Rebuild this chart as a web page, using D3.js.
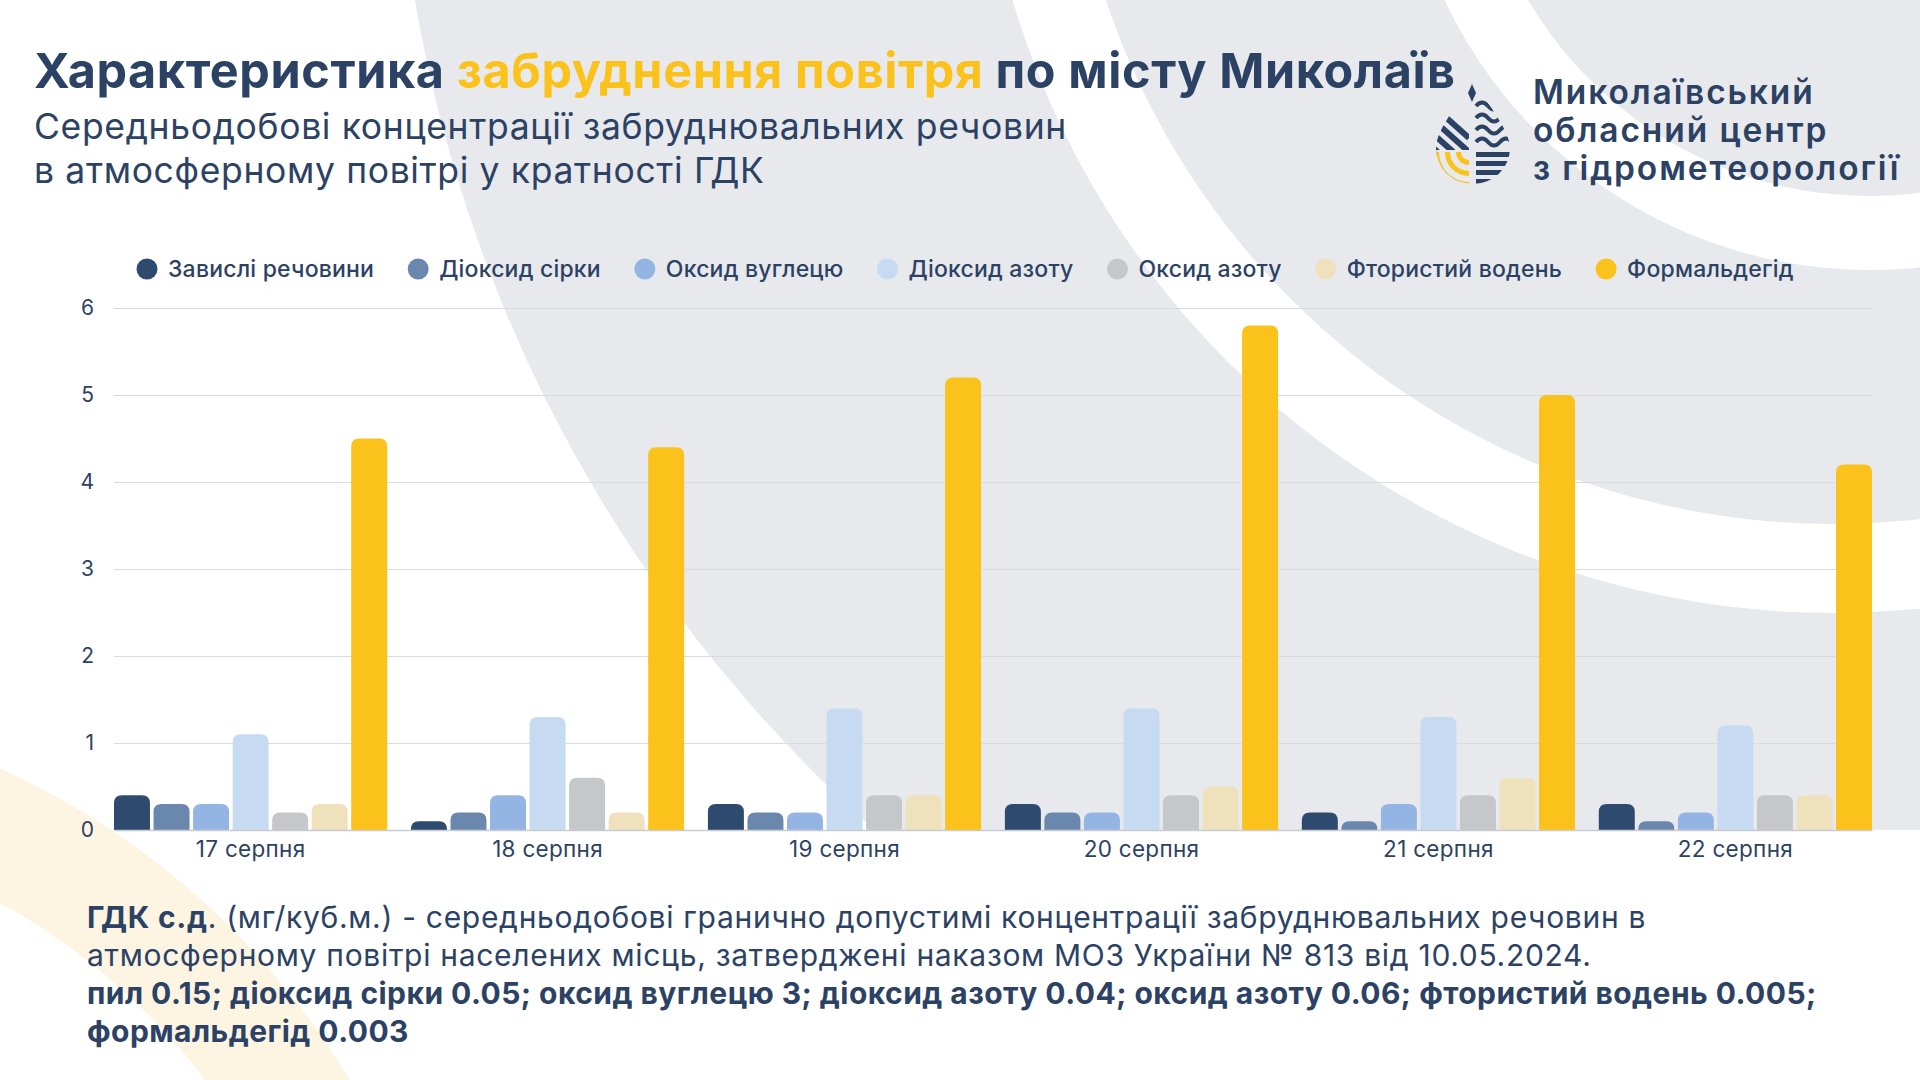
<!DOCTYPE html>
<html>
<head>
<meta charset="utf-8">
<script src="https://cdn.jsdelivr.net/npm/d3@7"></script>
<style>
  html, body { margin: 0; padding: 0; background: #fff; }
  svg { display: block; font-family: Inter, "Noto Sans", sans-serif; }
</style>
</head>
<body>
<div id="chart"></div>
<script>
// chart data
var days = ["17 серпня", "18 серпня", "19 серпня", "20 серпня", "21 серпня", "22 серпня"];
var pollutants = ["Завислі речовини", "Діоксид сірки", "Оксид вуглецю", "Діоксид азоту",
                  "Оксид азоту", "Фтористий водень", "Формальдегід"];
var zavysli      = [0.4, 0.1, 0.3, 0.3, 0.2, 0.3];
var dioksydSirky = [0.3, 0.2, 0.2, 0.2, 0.1, 0.1];
var oksydVugl    = [0.3, 0.4, 0.2, 0.2, 0.3, 0.2];
var dioksydAzotu = [1.1, 1.3, 1.4, 1.4, 1.3, 1.2];
var oksydAzotu   = [0.2, 0.6, 0.4, 0.4, 0.4, 0.4];
var ftorVoden    = [0.3, 0.2, 0.4, 0.5, 0.6, 0.4];
var formaldehid  = [4.5, 4.4, 5.2, 5.8, 5.0, 4.2];
var yTicks = [0, 1, 2, 3, 4, 5, 6];

var series = [zavysli, dioksydSirky, oksydVugl, dioksydAzotu, oksydAzotu, ftorVoden, formaldehid];
var colors = ["#2e4a6e", "#6a88ae", "#94b5e3", "#c6daf2", "#c6c7ca", "#efe1bb", "#fbc21b"];
var navy = "#2c4265";

const W = 1920, H = 1080;
const plot = {left: 114, right: 1872, top: 308, bottom: 830};

var svg = d3.select("#chart").append("svg")
    .attr("width", W).attr("height", H);

// ---- background shapes ----
var defs = svg.append("defs");
defs.append("clipPath").attr("id", "topclip")
    .append("rect").attr("x", 0).attr("y", 0).attr("width", W).attr("height", plot.bottom);

svg.append("rect").attr("width", W).attr("height", H).attr("fill", "#fff");

var bg = svg.append("g").attr("clip-path", "url(#topclip)");
function ring(r0, r1) {
    return d3.arc().innerRadius(r0).outerRadius(r1).startAngle(0).endAngle(2 * Math.PI)()
}
bg.append("circle").attr("cx", 1834).attr("cy", -244).attr("r", 1440).attr("fill", "#e8e9ed");
bg.append("path").attr("transform", "translate(1834,-244)")
    .attr("d", ring(768, 857)).attr("fill", "#fff");
bg.append("path").attr("transform", "translate(1870,-200)")
    .attr("d", ring(396, 470)).attr("fill", "#fff");
svg.append("path").attr("transform", "translate(-320,1480)")
    .attr("d", ring(660, 780)).attr("fill", "#fdf5e2");

// ---- titles ----
var title = svg.append("text").attr("x", 34).attr("y", 88)
    .attr("font-size", 48.5).attr("font-weight", 700).attr("fill", navy)
    .attr("letter-spacing", 0.6);
title.append("tspan").text("Характеристика ");
title.append("tspan").attr("fill", "#fbc21b").text("забруднення повітря");
title.append("tspan").text(" по місту Миколаїв");

var sub = svg.append("g").attr("font-size", 35.5).attr("fill", navy).attr("letter-spacing", 0.65);
sub.append("text").attr("x", 34).attr("y", 139)
    .text("Середньодобові концентрації забруднювальних речовин");
sub.append("text").attr("x", 34).attr("y", 183)
    .text("в атмосферному повітрі у кратності ГДК");

// ---- logo ----
var logo = svg.append("g").attr("transform", "translate(1473,80)");
defs.append("clipPath").attr("id", "drop")
    .append("path")
    .attr("d", "M0,0 C8,16 37,48 37,68 A37,36 0 0 1 -37,68 C-37,48 -8,16 0,0 Z");
var lg = logo.append("g").attr("clip-path", "url(#drop)");
// left half: diagonal stripes
for (var i = 0; i < 6; i++) {
    lg.append("line").attr("x1", -60).attr("y1", 8 + i * 14)
        .attr("x2", -4).attr("y2", 58 + i * 14)
        .attr("stroke", navy).attr("stroke-width", 6);
}
lg.append("rect").attr("x", -40).attr("y", 70).attr("width", 37).attr("height", 40).attr("fill", "#e8e9ed");
for (var j = 0; j < 3; j++) {
    lg.append("path")
        .attr("d", d3.arc().innerRadius(8 + j * 11).outerRadius(13 + j * 11)
            .startAngle(-Math.PI).endAngle(-Math.PI / 2)())
        .attr("transform", "translate(-4,72)")
        .attr("fill", "#fbc21b");
}
lg.append("rect").attr("x", -4).attr("y", 0).attr("width", 5).attr("height", 110).attr("fill", "#e8e9ed");
// right half: waves and horizontal stripes
for (var k = 0; k < 4; k++) {
    var yy = 26 + k * 12;
    lg.append("path")
        .attr("d", "M3," + yy + " q6,-7 12,0 t12,0 t12,0")
        .attr("fill", "none").attr("stroke", navy).attr("stroke-width", 4);
}
for (var m = 0; m < 4; m++) {
    lg.append("rect").attr("x", 3).attr("y", 72 + m * 9).attr("width", 40).attr("height", 5).attr("fill", navy);
}
lg.append("path").attr("d", "M-1,4 L3,13 L-1,22 L-5,13 Z").attr("fill", navy);

var logoText = ["Миколаївський", "обласний центр", "з гідрометеорології"];
svg.append("g").selectAll("text").data(logoText).enter().append("text")
    .attr("x", 1533).attr("y", (d, i) => 104 + i * 38)
    .attr("font-size", 33.5).attr("font-weight", 600).attr("fill", navy)
    .attr("letter-spacing", 1.9)
    .text(d => d);

// ---- scales ----
var x0 = d3.scaleBand().domain(days).range([plot.left, plot.right]).paddingInner(0.08);
var x1 = d3.scaleBand().domain(pollutants).range([0, x0.bandwidth()]).paddingInner(0.09);
var y = d3.scaleLinear().domain([0, 6]).range([plot.bottom, plot.top]);

// grid + y labels
var yAxis = d3.axisLeft(y).tickValues(yTicks).tickFormat(d3.format("d"))
    .tickSize(-(plot.right - plot.left)).tickPadding(20);
var gy = svg.append("g").attr("transform", "translate(" + plot.left + ",0)").call(yAxis);
gy.select(".domain").remove();
gy.selectAll(".tick line").attr("stroke", "#d9dbe1").attr("stroke-width", 1.2);
gy.selectAll(".tick text").attr("font-size", 21).attr("fill", navy).attr("font-family", "Inter");

// bars
function barPath(x, yTop, w, h, r) {
    r = Math.min(r, w / 2, h);
    return "M" + x + "," + (yTop + h) + "V" + (yTop + r) +
        "Q" + x + "," + yTop + " " + (x + r) + "," + yTop +
        "H" + (x + w - r) + "Q" + (x + w) + "," + yTop + " " + (x + w) + "," + (yTop + r) +
        "V" + (yTop + h) + "Z";
}
var groups = svg.append("g").selectAll("g.day")
    .data(days).enter().append("g")
    .attr("class", "day")
    .attr("transform", d => "translate(" + x0(d) + ",0)");
groups.selectAll("path")
    .data((d, di) => pollutants.map((p, pi) => ({p: p, pi: pi, v: series[pi][di]})))
    .enter().append("path")
    .attr("fill", d => colors[d.pi])
    .attr("d", d => barPath(x1(d.p), y(d.v), x1.bandwidth(), y(0) - y(d.v), 8));

// x axis
var xAxis = d3.axisBottom(x0).tickSize(0).tickPadding(11);
var gx = svg.append("g").attr("transform", "translate(0," + plot.bottom + ")").call(xAxis);
gx.select(".domain").attr("stroke", "#c9cbd2").attr("stroke-width", 1.5);
gx.selectAll(".tick text").attr("font-size", 22.5).attr("fill", navy).attr("font-family", "Inter")
    .attr("letter-spacing", 0.3);

// legend
var legend = svg.append("g").attr("transform", "translate(0,269)");
var lx = 147;
pollutants.forEach(function(p, i) {
    legend.append("circle").attr("cx", lx).attr("cy", 0).attr("r", 10.5).attr("fill", colors[i]);
    var t = legend.append("text").attr("x", lx + 21).attr("y", 0).attr("dy", "0.35em")
        .attr("font-size", 23).attr("font-weight", 500).attr("fill", navy)
        .attr("letter-spacing", 0.2).text(p);
    lx = lx + 21 + t.node().getComputedTextLength() + 44;
});

// footer
var foot = svg.append("g").attr("font-size", 30).attr("fill", navy).attr("letter-spacing", 0.7);
var f1 = foot.append("text").attr("x", 87).attr("y", 928);
f1.append("tspan").attr("font-weight", 700).text("ГДК с.д");
f1.append("tspan").text(". (мг/куб.м.) - середньодобові гранично допустимі концентрації забруднювальних речовин в");
foot.append("text").attr("x", 87).attr("y", 966)
    .text("атмосферному повітрі населених місць, затверджені наказом МОЗ України № 813 від 10.05.2024.");
foot.append("text").attr("x", 87).attr("y", 1004).attr("font-weight", 700).attr("letter-spacing", 0.45)
    .text("пил 0.15; діоксид сірки 0.05; оксид вуглецю 3; діоксид азоту 0.04; оксид азоту 0.06; фтористий водень 0.005;");
foot.append("text").attr("x", 87).attr("y", 1042).attr("font-weight", 700).attr("letter-spacing", 0.45)
    .text("формальдегід 0.003");
</script>
</body>
</html>
